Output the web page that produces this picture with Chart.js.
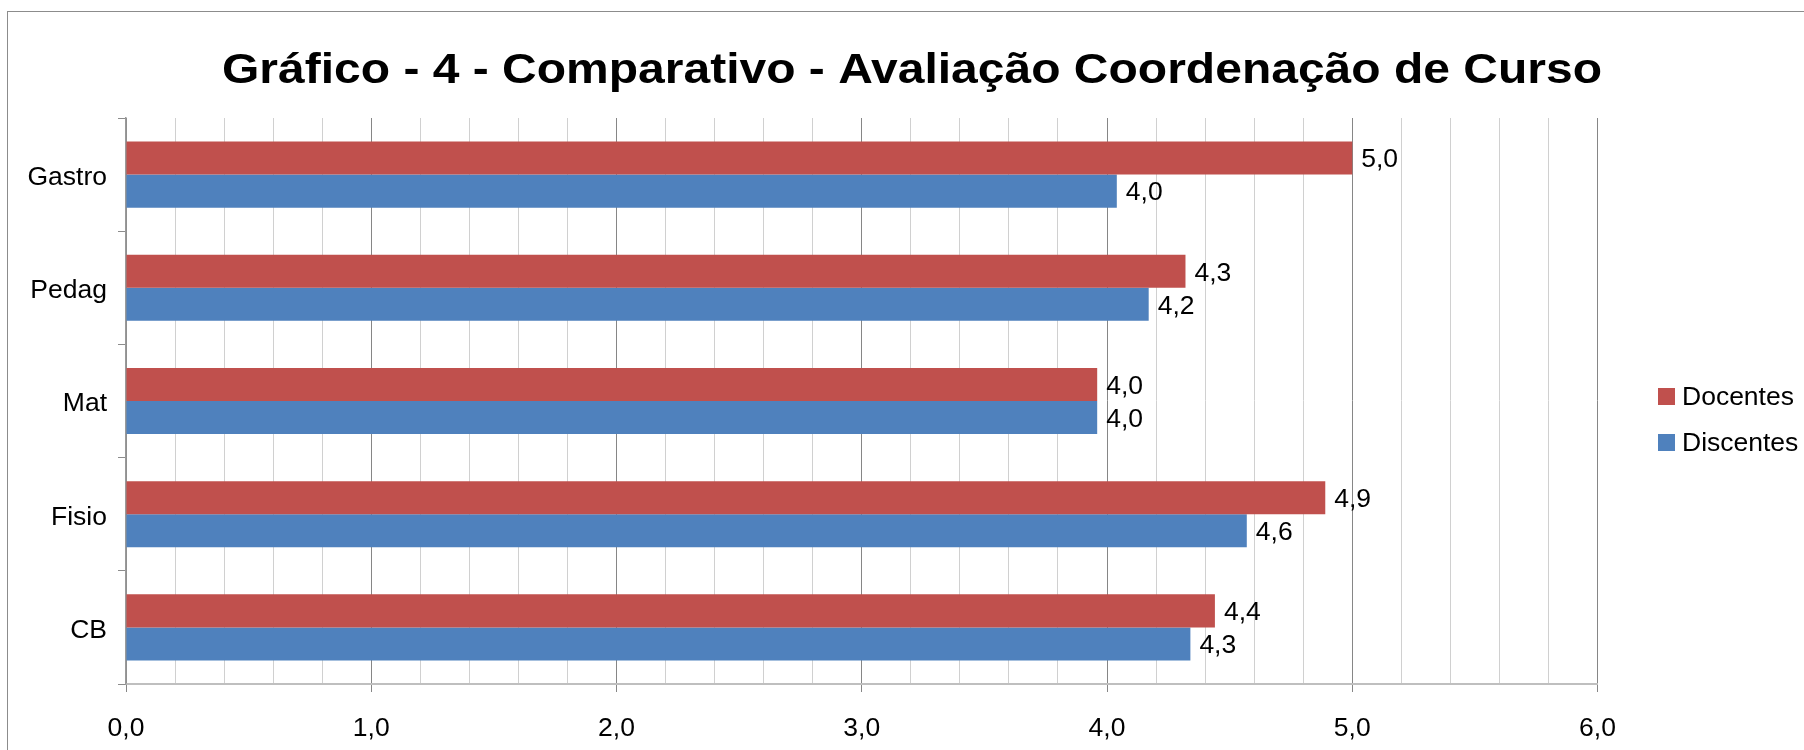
<!DOCTYPE html>
<html>
<head>
<meta charset="utf-8">
<script src="https://cdn.jsdelivr.net/npm/chart.js@4/dist/chart.umd.min.js"></script>
<style>
  body { margin: 0; background: #fff; }
</style>
</head>
<body>
<canvas id="chart" width="1804" height="750"></canvas>
<script>
// data
const cursos = ["Gastro", "Pedag", "Mat", "Fisio", "CB"];
const docentes = [5.0, 4.32, 3.96, 4.89, 4.44];
const discentes = [4.04, 4.17, 3.96, 4.57, 4.34];
const titulo = "Gráfico - 4 - Comparativo - Avaliação Coordenação de Curso";

const FONT = "'Liberation Sans', Arial, sans-serif";
const fmt = v => v.toFixed(1).replace(".", ",");
const isMajor = v => Math.abs(v - Math.round(v)) < 1e-6;

/* ---------- frame, title, legend, value labels ---------- */
const extras = {
    id: "extras",
    beforeDraw(chart) {
        const ctx = chart.ctx;
        ctx.save();
        ctx.fillStyle = "#fff";
        ctx.fillRect(0, 0, chart.width, chart.height);
        ctx.strokeStyle = "#8c8c8c";
        ctx.lineWidth = 1;
        ctx.strokeRect(7.5, 11.5, 2000, 1000);
        ctx.restore();
    },
    afterDraw(chart) {
        const ctx = chart.ctx;
        ctx.save();
        // title (the original is drawn a little wide)
        ctx.fillStyle = "#000";
        ctx.font = "bold 43px " + FONT;
        ctx.textAlign = "center";
        ctx.textBaseline = "alphabetic";
        const sx = 1380 / ctx.measureText(titulo).width;
        ctx.save();
        ctx.translate(912, 83);
        ctx.scale(sx, 1);
        ctx.fillText(titulo, 0, 0);
        ctx.restore();

        // legend
        ctx.font = "26.5px " + FONT;
        ctx.textAlign = "left";
        ctx.textBaseline = "middle";
        chart.data.datasets.forEach((ds, i) => {
            const y = 396.5 + i * 46;
            ctx.fillStyle = ds.backgroundColor;
            ctx.fillRect(1658, y - 8.5, 17, 17);
            ctx.fillStyle = "#000";
            ctx.fillText(ds.label, 1682, y + 1);
        });

        // value labels
        chart.data.datasets.forEach((ds, i) => {
            chart.getDatasetMeta(i).data.forEach((bar, j) => {
                ctx.fillText(fmt(ds.data[j]), bar.x + 9, bar.y + 2);
            });
        });
        ctx.restore();
    }
};

new Chart(document.getElementById("chart"), {
    type: "bar",
    data: {
        labels: cursos,
        datasets: [
            { label: "Docentes", data: docentes, backgroundColor: "#C0504D" },
            { label: "Discentes", data: discentes, backgroundColor: "#4F81BD" }
        ]
    },
    options: {
        indexAxis: "y",
        responsive: false,
        animation: false,
        devicePixelRatio: 1,
        categoryPercentage: 0.584,
        barPercentage: 1.0,
        layout: { padding: { top: 118, right: 206.5, bottom: 0, left: 0 } },
        plugins: {
            legend: { display: false },
            title: { display: false },
            tooltip: { enabled: false }
        },
        scales: {
            x: {
                min: 0,
                max: 6,
                afterFit: s => { s.height = 66; },
                border: { color: "#bfbfbf", width: 2 },
                grid: {
                    color: c => (c.tick && isMajor(c.tick.value)) ? "#868686" : "#d0d0d0",
                    tickColor: c => (c.tick && isMajor(c.tick.value)) ? "#868686" : "rgba(0,0,0,0)",
                    tickLength: 8,
                    lineWidth: 1
                },
                ticks: {
                    stepSize: 0.2,
                    maxTicksLimit: 40,
                    autoSkip: false,
                    maxRotation: 0,
                    padding: 21,
                    color: "#000",
                    font: { family: FONT, size: 26.5 },
                    callback: v => isMajor(v) ? fmt(v) : ""
                }
            },
            y: {
                afterFit: s => { s.width = 126; },
                border: { color: "#9a9a9a", width: 1.5 },
                grid: {
                    drawOnChartArea: false,
                    offset: true,
                    color: "#8c8c8c",
                    tickLength: 8
                },
                ticks: {
                    padding: 11,
                    labelOffset: 3,
                    color: "#000",
                    font: { family: FONT, size: 26.5 }
                }
            }
        }
    },
    plugins: [extras]
});
</script>
</body>
</html>
